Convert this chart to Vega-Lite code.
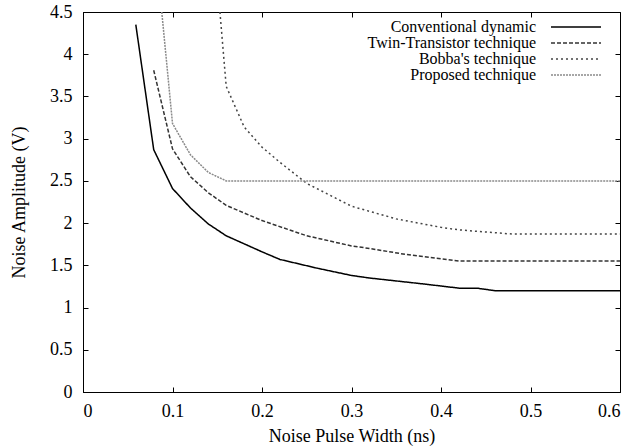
{
  "$schema": "https://vega.github.io/schema/vega-lite/v6.json",
  "width": 537,
  "height": 380,
  "autosize": "none",
  "padding": {"left": 83, "top": 12, "right": 12, "bottom": 55},
  "background": "white",
  "config": {
    "view": {"stroke": "black", "strokeWidth": 1},
    "font": "Liberation Serif",
    "axis": {"grid": false, "domainColor": "black", "tickColor": "black", "labelColor": "black", "titleColor": "black", "labelFont": "Liberation Serif", "titleFont": "Liberation Serif", "labelFontSize": 18, "titleFontSize": 18, "titleFontWeight": "normal", "tickSize": -5}
  },
  "data": {"values": [
    {"s": "Conventional dynamic", "x": 0.059, "y": 4.35},
    {"s": "Conventional dynamic", "x": 0.079, "y": 2.87},
    {"s": "Conventional dynamic", "x": 0.1, "y": 2.41},
    {"s": "Conventional dynamic", "x": 0.12, "y": 2.18},
    {"s": "Conventional dynamic", "x": 0.14, "y": 1.99},
    {"s": "Conventional dynamic", "x": 0.16, "y": 1.85},
    {"s": "Conventional dynamic", "x": 0.2, "y": 1.66},
    {"s": "Conventional dynamic", "x": 0.22, "y": 1.57},
    {"s": "Conventional dynamic", "x": 0.26, "y": 1.47},
    {"s": "Conventional dynamic", "x": 0.3, "y": 1.38},
    {"s": "Conventional dynamic", "x": 0.32, "y": 1.35},
    {"s": "Conventional dynamic", "x": 0.38, "y": 1.28},
    {"s": "Conventional dynamic", "x": 0.42, "y": 1.23},
    {"s": "Conventional dynamic", "x": 0.44, "y": 1.23},
    {"s": "Conventional dynamic", "x": 0.46, "y": 1.2},
    {"s": "Conventional dynamic", "x": 0.6, "y": 1.2},
    {"s": "Twin-Transistor technique", "x": 0.079, "y": 3.81},
    {"s": "Twin-Transistor technique", "x": 0.1, "y": 2.88},
    {"s": "Twin-Transistor technique", "x": 0.12, "y": 2.55},
    {"s": "Twin-Transistor technique", "x": 0.14, "y": 2.36},
    {"s": "Twin-Transistor technique", "x": 0.16, "y": 2.21},
    {"s": "Twin-Transistor technique", "x": 0.2, "y": 2.03},
    {"s": "Twin-Transistor technique", "x": 0.25, "y": 1.85},
    {"s": "Twin-Transistor technique", "x": 0.3, "y": 1.73},
    {"s": "Twin-Transistor technique", "x": 0.32, "y": 1.7},
    {"s": "Twin-Transistor technique", "x": 0.36, "y": 1.63},
    {"s": "Twin-Transistor technique", "x": 0.42, "y": 1.55},
    {"s": "Twin-Transistor technique", "x": 0.6, "y": 1.55},
    {"s": "Bobba's technique", "x": 0.153, "y": 4.5},
    {"s": "Bobba's technique", "x": 0.16, "y": 3.62},
    {"s": "Bobba's technique", "x": 0.18, "y": 3.14},
    {"s": "Bobba's technique", "x": 0.2, "y": 2.9},
    {"s": "Bobba's technique", "x": 0.22, "y": 2.72},
    {"s": "Bobba's technique", "x": 0.25, "y": 2.47},
    {"s": "Bobba's technique", "x": 0.3, "y": 2.2},
    {"s": "Bobba's technique", "x": 0.35, "y": 2.05},
    {"s": "Bobba's technique", "x": 0.4, "y": 1.95},
    {"s": "Bobba's technique", "x": 0.42, "y": 1.92},
    {"s": "Bobba's technique", "x": 0.48, "y": 1.87},
    {"s": "Bobba's technique", "x": 0.6, "y": 1.87},
    {"s": "Proposed technique", "x": 0.088, "y": 4.5},
    {"s": "Proposed technique", "x": 0.1, "y": 3.18},
    {"s": "Proposed technique", "x": 0.12, "y": 2.81},
    {"s": "Proposed technique", "x": 0.14, "y": 2.6},
    {"s": "Proposed technique", "x": 0.16, "y": 2.5},
    {"s": "Proposed technique", "x": 0.6, "y": 2.5}
  ]},
  "resolve": {"axis": {"x": "independent", "y": "independent"}},
  "layer": [
    {
      "mark": {"type": "line", "clip": true},
      "encoding": {
        "x": {"field": "x", "type": "quantitative", "scale": {"domain": [0, 0.6], "nice": false}, "axis": {"title": "Noise Pulse Width (ns)", "values": [0, 0.1, 0.2, 0.3, 0.4, 0.5, 0.6], "format": "~g", "labelPadding": 15, "titlePadding": 7}},
        "y": {"field": "y", "type": "quantitative", "scale": {"domain": [0, 4.5], "nice": false}, "axis": {"title": "Noise Amplitude (V)", "values": [0, 0.5, 1, 1.5, 2, 2.5, 3, 3.5, 4, 4.5], "format": "~g", "labelPadding": 16, "titlePadding": 21}},
        "color": {"field": "s", "type": "nominal", "sort": ["Conventional dynamic", "Twin-Transistor technique", "Bobba's technique", "Proposed technique"], "scale": {"domain": ["Conventional dynamic", "Twin-Transistor technique", "Bobba's technique", "Proposed technique"], "range": ["#000000", "#333333", "#444444", "#8a8a8a"]}, "legend": {"title": null, "orient": "none", "legendX": 485, "legendY": 7, "symbolType": "M-5,0H5", "symbolSize": 100, "symbolStrokeWidth": 1.5, "symbolFillColor": "transparent", "labelFont": "Liberation Serif", "labelFontSize": 16, "labelColor": "black", "labelAlign": "right", "labelOffset": -48, "rowPadding": 0, "labelLimit": 400}},
        "strokeDash": {"field": "s", "type": "nominal", "sort": ["Conventional dynamic", "Twin-Transistor technique", "Bobba's technique", "Proposed technique"], "scale": {"domain": ["Conventional dynamic", "Twin-Transistor technique", "Bobba's technique", "Proposed technique"], "range": [[1, 0], [4, 2], [2, 3], [2, 1]]}, "legend": {"title": null, "orient": "none", "legendX": 485, "legendY": 7, "symbolType": "M-5,0H5", "symbolSize": 100, "symbolStrokeWidth": 1.5, "symbolFillColor": "transparent", "labelFont": "Liberation Serif", "labelFontSize": 16, "labelColor": "black", "labelAlign": "right", "labelOffset": -48, "rowPadding": 0, "labelLimit": 400}},
        "strokeWidth": {"value": 1.5}
      }
    },
    {
      "mark": {"type": "line", "opacity": 0},
      "encoding": {
        "x": {"field": "x", "type": "quantitative", "axis": {"orient": "top", "title": null, "labels": false, "domain": false, "values": [0, 0.1, 0.2, 0.3, 0.4, 0.5, 0.6]}},
        "y": {"field": "y", "type": "quantitative", "axis": {"orient": "right", "title": null, "labels": false, "domain": false, "values": [0, 0.5, 1, 1.5, 2, 2.5, 3, 3.5, 4, 4.5]}},
        "detail": {"field": "s"}
      }
    }
  ]
}
